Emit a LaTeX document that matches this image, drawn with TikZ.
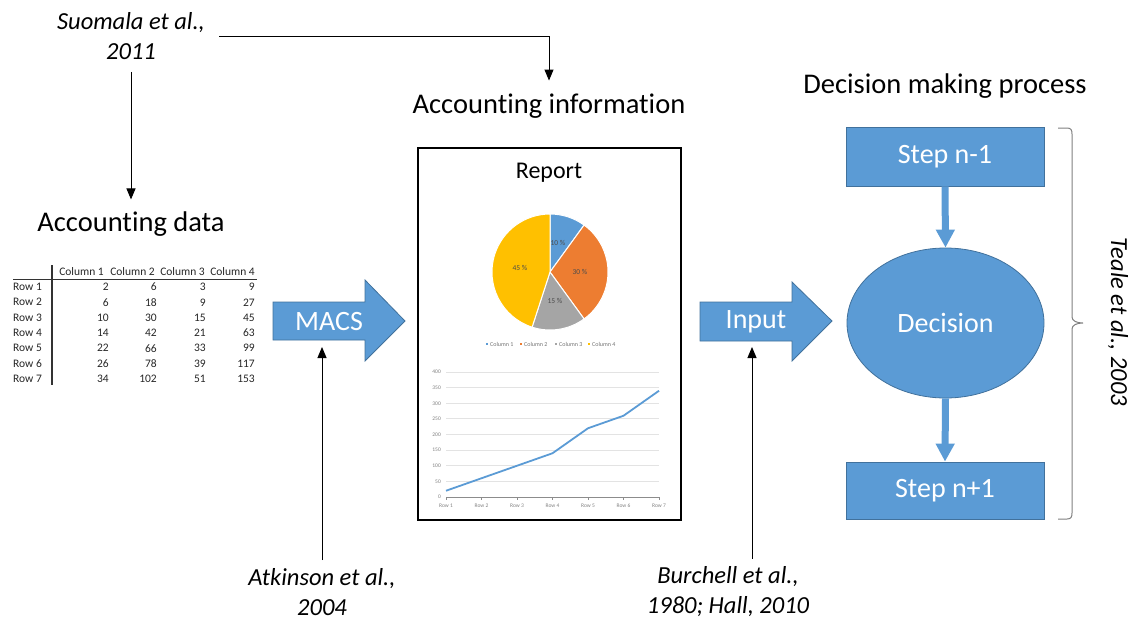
\documentclass[tikz,border=0pt]{standalone}
\usepackage{fontspec}
\setmainfont[Ligatures=NoCommon]{Carlito}
\usetikzlibrary{arrows.meta,shapes.geometric}
\definecolor{officeblue}{HTML}{5B9BD5}
\definecolor{officeedge}{HTML}{41719C}
\definecolor{officeorange}{HTML}{ED7D31}
\definecolor{officegray}{HTML}{A5A5A5}
\definecolor{officegold}{HTML}{FFC000}
\definecolor{bracegray}{HTML}{7F7F7F}
\definecolor{axisgray}{HTML}{8C8C8C}
\definecolor{gridgray}{HTML}{E3E3E3}

\begin{document}
\begin{tikzpicture}[x=1pt,y=-1pt,
  heading/.style={font=\fontsize{28.5}{32}\selectfont, inner sep=0pt},
  cite/.style={font=\itshape\fontsize{24.5}{30}\selectfont, align=center, inner sep=0pt},
  blk/.style={fill=officeblue, draw=officeedge, line width=0.8pt},
  lbl/.style={text=white, font=\fontsize{28}{32}\selectfont},
  thinarrow/.style={-{Triangle[width=9pt,length=11pt]}, line width=1pt},
  flowarrow/.style={draw=officeblue, line width=7pt, -{Triangle[width=18pt,length=18pt]}},
  tab/.style={font=\fontsize{11.5}{13}\selectfont, text=black!85, inner sep=0pt},
  pielbl/.style={font=\fontsize{7.5}{8}\selectfont, text=black!70, inner sep=0pt},
  tiny/.style={font=\fontsize{6}{7}\selectfont, text=black!55, inner sep=0pt},
  axislbl/.style={font=\fontsize{5.5}{6}\selectfont, text=black!50, inner sep=0pt}]
\useasboundingbox (0,0) rectangle (1141,621);

% ---------- headings ----------
\node[heading] (accdata) at (131,224) {Accounting data};
\node[heading] (accinfo) at (549,106) {Accounting information};
\node[heading] (dmp) at (945,86) {Decision making process};

% ---------- citations ----------
\node[cite] (suomala) at (131,36) {Suomala et al.,\\2011};
\node[cite] (atkinson) at (322,592) {Atkinson et al.,\\2004};
\node[cite] (burchell) at (728,592) {Burchell et al.,\\1980; Hall, 2010};
\node[cite, rotate=-90] (teale) at (1118,322) {Teale et al., 2003};

% ---------- data table ----------
\foreach \j/\x in {1/104,2/155,3/205,4/255}
  \node[tab, anchor=east] (hd\j) at (\x,272) {Column \j};
\foreach \r/\a/\b/\c/\d in {1/2/6/3/9, 2/6/18/9/27, 3/10/30/15/45, 4/14/42/21/63,
                            5/22/66/33/99, 6/26/78/39/117, 7/34/102/51/153} {
  \pgfmathsetmacro{\yy}{287+(\r-1)*15.3}
  \node[tab, anchor=west] (rw\r) at (13,\yy) {Row \r};
  \node[tab, anchor=east] (ca\r) at (109,\yy) {\a};
  \node[tab, anchor=east] (cb\r) at (157,\yy) {\b};
  \node[tab, anchor=east] (cc\r) at (206,\yy) {\c};
  \node[tab, anchor=east] (cd\r) at (255,\yy) {\d};
}
\draw[black!80, line width=1pt] (13,279) -- (257,279);
\draw[black!80, line width=1.2pt] (52,265) -- (52,385);

% ---------- block arrows ----------
\draw[blk] (273,302) -- (365,302) -- (365,280) -- (405,321) -- (365,361)
           -- (365,340) -- (273,340) -- cycle;
\node[lbl] (macs) at (329,322) {MACS};
\draw[blk] (700,302) -- (792,302) -- (792,282) -- (832,321) -- (792,361)
           -- (792,341) -- (700,341) -- cycle;
\node[lbl] (input) at (756,322) {Input};
\coordinate (macsfoot) at (322,347);
\coordinate (inputfoot) at (752,347);

% ---------- report page ----------
\node[draw=black, line width=2pt, minimum width=263pt, minimum height=372pt, inner sep=0pt]
  (report) at (549.5,334) {};
\node[font=\fontsize{24}{26}\selectfont, inner sep=0pt] (rtitle) at (549,173) {Report};

% pie chart
\begin{scope}[shift={(550,272)}]
  \filldraw[fill=officeblue, draw=white, line width=1pt]
    (0pt,0pt) -- (90:58pt) arc[start angle=90, end angle=54, radius=58pt] -- cycle;
  \filldraw[fill=officeorange, draw=white, line width=1pt]
    (0pt,0pt) -- (54:58pt) arc[start angle=54, end angle=-54, radius=58pt] -- cycle;
  \filldraw[fill=officegray, draw=white, line width=1pt]
    (0pt,0pt) -- (-54:58pt) arc[start angle=-54, end angle=-108, radius=58pt] -- cycle;
  \filldraw[fill=officegold, draw=white, line width=1pt]
    (0pt,0pt) -- (-108:58pt) arc[start angle=-108, end angle=-270, radius=58pt] -- cycle;
\end{scope}
\node[pielbl] (p1) at (558,243) {10 \%};
\node[pielbl] (p2) at (580,272) {30 \%};
\node[pielbl] (p3) at (555,301) {15 \%};
\node[pielbl] (p4) at (520,268) {45 \%};

% legend
\foreach \k/\x/\c in {1/487/officeblue,2/521/officeorange,3/556/officegray,4/589/officegold} {
  \node[fill=\c, minimum size=2.6pt, inner sep=0pt] (lm\k) at (\x,344) {};
  \node[tiny, anchor=west] (lt\k) at (\x+3,344) {Column \k};
}

% line chart
\foreach \v in {50,100,...,400}
  \draw[gridgray, line width=0.8pt] (446,{497-0.3125*\v}) -- (659,{497-0.3125*\v});
\foreach \v in {0,50,...,400}
  \node[axislbl, anchor=east] (yl\v) at (441,{497-0.3125*\v}) {\v};
\draw[axisgray, line width=0.8pt] (446,497) -- (659,497);
\foreach \i in {1,...,7} {
  \pgfmathsetmacro{\xx}{446+(\i-1)*35.5}
  \draw[axisgray, line width=0.6pt] (\xx,497) -- (\xx,500);
  \node[axislbl] (xl\i) at (\xx,506) {Row \i};
}
\draw[officeblue, line width=1.8pt, line join=round]
  (446,{497-0.3125*20}) -- (481.5,{497-0.3125*60}) -- (517,{497-0.3125*100})
  -- (552.5,{497-0.3125*140}) -- (588,{497-0.3125*220}) -- (623.5,{497-0.3125*260})
  -- (659,{497-0.3125*340});

% ---------- decision making process ----------
\node[blk, lbl, minimum width=198pt, minimum height=59pt] (prev) at (945,156.5) {Step n-1};
\node[blk, lbl, ellipse, minimum width=197pt, minimum height=150pt, inner sep=0pt]
  (dec) at (945.5,323) {Decision};
\node[blk, lbl, minimum width=198pt, minimum height=57pt] (next) at (945,490.5) {Step n+1};
\draw[flowarrow] (prev.south) -- (dec.north);
\draw[flowarrow] (dec.south) -- (next.north);

% brace
\draw[bracegray, line width=1pt]
  (1058,128) -- (1067,128) .. controls (1071,128) and (1072,130) .. (1072,134)
  -- (1072,317) .. controls (1072,321) and (1077,323) .. (1083,323)
  .. controls (1077,323) and (1072,325) .. (1072,329)
  -- (1072,513) .. controls (1072,517) and (1071,519) .. (1067,519) -- (1058,519);

% ---------- citation connectors ----------
\draw[thinarrow] ([yshift=-12pt]suomala.south -| accdata.north) -- ([yshift=12pt]accdata.north);
\draw[thinarrow] ([xshift=14pt]suomala.east) -| ([yshift=13pt]accinfo.north);
\draw[thinarrow] ([yshift=8pt]atkinson.north -| macsfoot) -- (macsfoot);
\draw[thinarrow] ([yshift=8pt]burchell.north -| inputfoot) -- (inputfoot);
\end{tikzpicture}
\end{document}
